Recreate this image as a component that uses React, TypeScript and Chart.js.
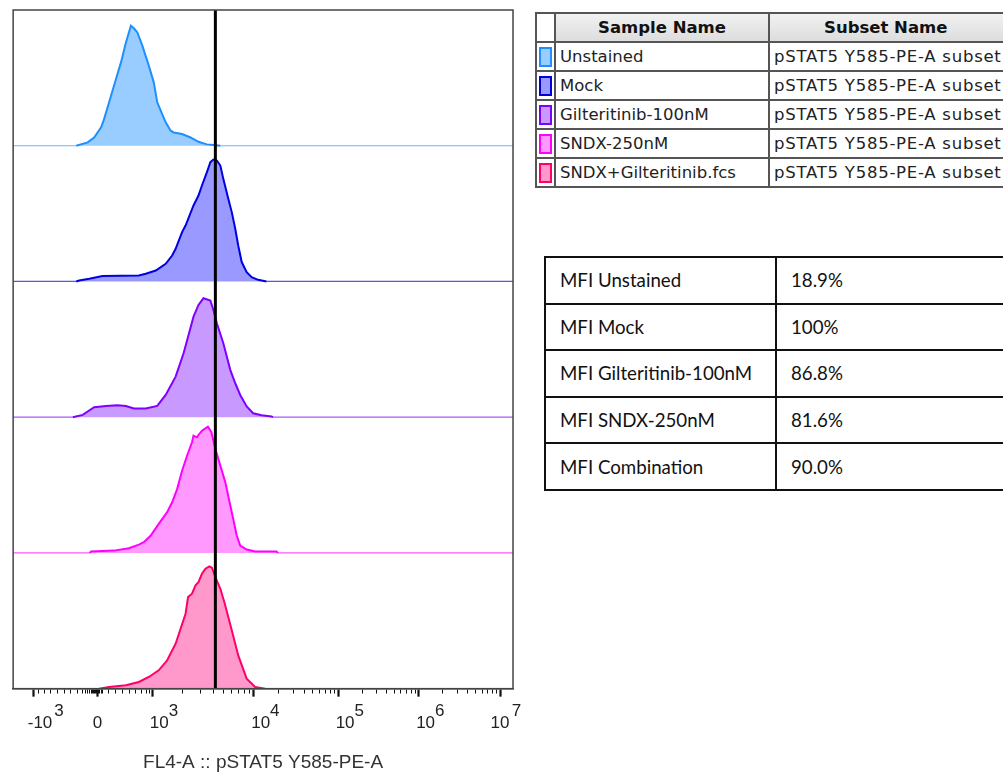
import React, { useEffect, useRef } from 'react';
import { Chart, registerables } from 'chart.js';

Chart.register(...registerables);

// ---------- data ----------
const sampleNames = ['Unstained', 'Mock', 'Gilteritinib-100nM', 'SNDX-250nM', 'SNDX+Gilteritinib.fcs'];
const subsetName = 'pSTAT5 Y585-PE-A subset';
const strokeColors = ['#1f8fff', '#0000e0', '#8000ff', '#ff00ff', '#ff0066'];
const fillColors = ['#99ccff', '#9999ff', '#c899ff', '#ff99ff', '#ff99cc'];

// x in display channels (axis 0..1006), heights in % of lane height
const unstainedX = [127, 150, 163, 177, 183, 193, 207, 217, 227, 237, 243, 250, 260, 273, 283, 290, 297, 307, 317, 323, 340, 357, 373, 390, 403, 417];
const unstainedH = [0, 2.5, 6.1, 13.5, 19.6, 31.9, 49.1, 61.4, 76.1, 88.4, 86.5, 83.5, 73.7, 59, 46.7, 32, 25.8, 17.2, 11.1, 9.8, 8.6, 6.1, 2.9, 1, 0.5, 0];

const mockX = [127, 133, 153, 180, 253, 267, 287, 307, 320, 327, 340, 347, 363, 373, 380, 390, 397, 403, 410, 417, 423, 433, 440, 447, 453, 460, 470, 480, 493, 510];
const mockH = [0, 0.7, 2, 4, 4.4, 5.7, 8.1, 13, 19.1, 24.1, 36.4, 41.2, 56, 63.3, 70.7, 80.6, 87.9, 89.8, 89.1, 85.4, 75.6, 60.9, 51.1, 38.8, 26.5, 14.3, 6.9, 3.2, 1.2, 0];

const gilteritinibX = [120, 140, 153, 163, 187, 210, 227, 243, 267, 290, 307, 327, 343, 353, 363, 373, 383, 397, 403, 410, 423, 437, 447, 457, 470, 483, 500, 520, 523];
const gilteritinibH = [0, 1.7, 4.9, 7.4, 8.3, 8.8, 8.3, 6.4, 6.4, 8.3, 16.4, 29.9, 47.1, 60.6, 74.1, 82.7, 87.6, 85.9, 79, 69.2, 54.5, 34.9, 25, 16.4, 7.9, 2.9, 1.5, 0.5, 0];

const sndxX = [154, 157, 203, 233, 253, 263, 277, 293, 310, 320, 330, 340, 350, 360, 363, 370, 373, 380, 392, 399, 407, 417, 427, 440, 450, 457, 470, 487, 530, 533];
const sndxH = [0, 1, 1.7, 3.4, 6.1, 7.9, 12.8, 21.4, 30, 37.3, 47, 60.6, 71.6, 81.5, 86.4, 85.2, 86.9, 90, 93, 88.9, 76.6, 64.3, 52, 30, 12.8, 5.4, 2.5, 1, 1, 0];

const comboX = [173, 193, 227, 253, 273, 293, 310, 327, 347, 352, 360, 367, 373, 380, 387, 395, 400, 407, 417, 425, 440, 453, 470, 487, 507];
const comboH = [0, 1.2, 2.5, 4.9, 8.6, 13.5, 20.9, 33.1, 55.2, 67.5, 70, 76.1, 78.5, 84.7, 88.4, 90.1, 89.1, 82.2, 73.6, 63.8, 43, 24.5, 7.4, 1.2, 0];

const seriesX = [unstainedX, mockX, gilteritinibX, sndxX, comboX];
const seriesH = [unstainedH, mockH, gilteritinibH, sndxH, comboH];

const markerX = 407;
const xMin = 0;
const xMax = 1006;

// axis ticks (display channels)
const majorTickValues = [40, 170, 280, 484, 654, 816, 980];
const majorTickExponents = ['        3', '', '      3', '      4', '      5', '      6', '    7'];
const majorTickBases = ['-10', '0   ', '10', '10', '10', '10', '10   '];
const minorTickValues = [
  52, 64, 76, 90, 104, 116, 130, 140, 146, 150, 154, 157, 160, 162, 164, 166, 168, 172, 174, 177,
  180, 192, 206, 220, 234, 246, 258, 268, 274,
  341, 377, 403, 423, 439, 453, 465, 475,
  535, 565, 586, 603, 616, 628, 638, 646,
  703, 731, 751, 767, 780, 791, 801, 809,
  865, 894, 915, 931, 944, 955, 965, 973,
];
const axisTitle = 'FL4-A :: pSTAT5 Y585-PE-A';

const mfiLabels = ['MFI Unstained', 'MFI Mock', 'MFI Gilteritinib-100nM', 'MFI SNDX-250nM', 'MFI Combination'];
const mfiValues = ['18.9%', '100%', '86.8%', '81.6%', '90.0%'];

const laneCount = 5;

const framePlugin = {
  id: 'frame',
  afterDatasetsDraw(chart: any) {
    const { ctx, chartArea: a } = chart;
    ctx.save();
    ctx.strokeStyle = '#444';
    ctx.lineWidth = 1.5;
    ctx.strokeRect(a.left, a.top, a.right - a.left, a.bottom - a.top);
    ctx.restore();
  },
};

function Histogram() {
  const ref = useRef<HTMLCanvasElement>(null);
  useEffect(() => {
    if (!ref.current) return;
    const majorSet = new Set(majorTickValues);
    const datasets: any[] = seriesX.map((xs, i) => {
      const base = laneCount - 1 - i;
      const pts = [
        { x: xMin, y: base },
        ...xs.map((x, j) => ({ x, y: base + seriesH[i][j] / 100 })),
        { x: xMax, y: base },
      ];
      return {
        label: sampleNames[i],
        data: pts,
        borderColor: strokeColors[i],
        backgroundColor: fillColors[i],
        fill: { value: base },
        borderWidth: 2,
        pointRadius: 0,
        tension: 0,
        order: 1,
        segment: {
          borderWidth: (c: any) => (c.p0.parsed.y === base && c.p1.parsed.y === base ? 1.2 : 2),
          borderColor: (c: any) => (c.p0.parsed.y === base && c.p1.parsed.y === base ? strokeColors[i] + 'aa' : strokeColors[i]),
        },
      };
    });
    datasets.push({
      label: 'marker',
      data: [{ x: markerX, y: 0 }, { x: markerX, y: laneCount }],
      borderColor: '#000',
      borderWidth: 3,
      pointRadius: 0,
      fill: false,
      order: 0,
    });
    const allTicks = [...majorTickValues, ...minorTickValues].sort((a, b) => a - b);
    const chart = new Chart(ref.current, {
      type: 'line',
      data: { datasets },
      plugins: [framePlugin],
      options: {
        animation: false,
        responsive: false,
        layout: { padding: { left: 10, top: 10, right: 17, bottom: 0 } },
        plugins: { legend: { display: false }, tooltip: { enabled: false } },
        scales: {
          x: {
            type: 'linear',
            min: xMin,
            max: xMax,
            afterBuildTicks: (scale: any) => {
              scale.ticks = allTicks.map((v) => ({ value: v, major: majorSet.has(v) }));
            },
            ticks: {
              autoSkip: false,
              maxRotation: 0,
              minRotation: 0,
              padding: 9,
              labelOffset: 7,
              color: '#222',
              font: { family: 'Liberation Sans', size: 17, lineHeight: 0.71 },
              callback: (value: any) => {
                const k = majorTickValues.indexOf(Number(value));
                if (k < 0) return '';
                return [majorTickExponents[k], majorTickBases[k]];
              },
            },
            grid: {
              drawOnChartArea: false,
              drawTicks: true,
              tickLength: 8,
              tickColor: '#111',
              tickWidth: (c: any) => (majorSet.has(c.tick?.value) ? 2.2 : 1),
              tickBorderDash: (c: any) => (majorSet.has(c.tick?.value) ? [] : [4, 20]),
            },
            border: { display: true, color: '#444', width: 1.5 },
            title: {
              display: true,
              text: axisTitle,
              color: '#333',
              font: { family: 'Liberation Sans', size: 19 },
              padding: { top: 12.4, bottom: 0 },
            },
          },
          y: { type: 'linear', min: 0, max: laneCount, display: false },
        },
      },
    });
    return () => chart.destroy();
  }, []);
  return <canvas ref={ref} width={530} height={774} style={{ position: 'absolute', left: 0, top: 0 }} />;
}

export default function App() {
  const legendCell: React.CSSProperties = { border: '2px solid #555', padding: '0 4px', whiteSpace: 'nowrap', overflow: 'hidden' };
  const mfiCell: React.CSSProperties = { border: '2px solid #111', padding: '0 0 0 14px', whiteSpace: 'nowrap', height: 44.6 };
  return (
    <div style={{ position: 'absolute', left: 0, top: 0, width: 1003, height: 774, overflow: 'hidden', background: '#fff' }}>
      <Histogram />
      <table
        style={{
          position: 'absolute', left: 535, top: 12, borderCollapse: 'collapse', tableLayout: 'fixed',
          width: 19 + 214 + 240, fontFamily: 'DejaVu Sans', fontSize: 16.5, color: '#222',
        }}
      >
        <colgroup>
          <col style={{ width: 19 }} />
          <col style={{ width: 214 }} />
          <col style={{ width: 240 }} />
        </colgroup>
        <thead>
          <tr style={{ height: 29, background: 'linear-gradient(#f2f2f2, #dcdcdc)' }}>
            <th style={{ ...legendCell, background: '#fff' }}></th>
            <th style={{ ...legendCell, fontWeight: 'bold', textAlign: 'center', color: '#111' }}>Sample Name</th>
            <th style={{ ...legendCell, fontWeight: 'bold', textAlign: 'left', paddingLeft: 54, color: '#111' }}>Subset Name</th>
          </tr>
        </thead>
        <tbody>
          {sampleNames.map((n, i) => (
            <tr key={n} style={{ height: 29 }}>
              <td style={{ ...legendCell, padding: 0 }}>
                <div style={{ width: 9, height: 16, margin: '0 auto', border: `2px solid ${strokeColors[i]}`, background: fillColors[i] }} />
              </td>
              <td style={legendCell}>{n}</td>
              <td style={{ ...legendCell, letterSpacing: 0.75 }}>{subsetName}</td>
            </tr>
          ))}
        </tbody>
      </table>
      <table
        style={{
          position: 'absolute', left: 544, top: 256, borderCollapse: 'collapse', tableLayout: 'fixed',
          width: 231 + 250, fontFamily: 'Lato', fontSize: 18.7, color: '#111',
        }}
      >
        <colgroup>
          <col style={{ width: 231 }} />
          <col style={{ width: 250 }} />
        </colgroup>
        <tbody>
          {mfiLabels.map((l, i) => (
            <tr key={l}>
              <td style={mfiCell}>{l}</td>
              <td style={mfiCell}>{mfiValues[i]}</td>
            </tr>
          ))}
        </tbody>
      </table>
    </div>
  );
}
